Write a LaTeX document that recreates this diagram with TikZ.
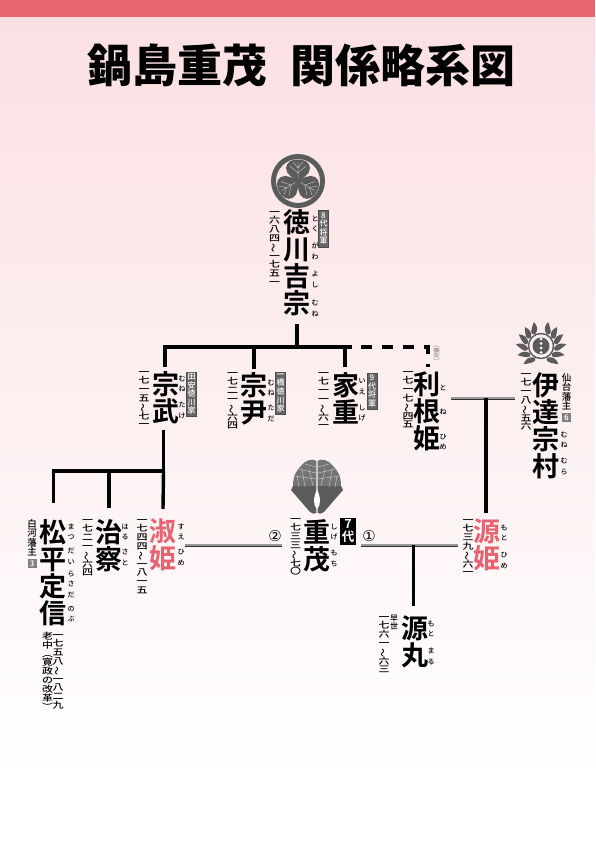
\documentclass[tikz,border=0pt]{standalone}
\usepackage{fontspec}
\usepackage{xcolor}
\newfontfamily\tatefont{Noto Sans CJK JP Medium}
\newfontfamily\tatebold{Noto Sans CJK JP Bold}
\newfontfamily\yokofont{Noto Sans CJK JP Black}
\newfontfamily\symfont{DejaVu Sans}
\definecolor{band}{HTML}{E9656F}
\definecolor{himepink}{HTML}{E8636F}
\definecolor{paper}{HTML}{FBE0E2}
\definecolor{mon}{HTML}{5B5B5B}
% one character per line, the three signs that turn get turned
\makeatletter
\newif\iftatetop
\def\tatenami{〜}
\def\tatehira{（}
\def\tatetoji{）}
\newcommand\tateput{\ifx\tatec\tatenami\smash{\rotatebox[origin=c]{90}{〜}}\else\ifx\tatec\tatehira\smash{\rotatebox[origin=c]{-90}{（}}\else\ifx\tatec\tatetoji\smash{\rotatebox[origin=c]{-90}{）}}\else\tatec\fi\fi\fi}
\newcommand\tate[1]{\global\tatetoptrue\@tfor\tatec:=#1\do{\global\let\tatec\tatec\iftatetop\global\tatetopfalse\else\\\fi\tateput}}
\makeatother
% one leaf of the aoi crest
\newcommand\aoileaf[1]{
    \begin{scope}[shift={(298,181)},rotate=#1]
    \fill[mon] (0,1) .. controls (-4,-3) and (-12,-6) .. (-12,-13) .. controls (-12,-19) and (-5,-22) .. (0,-21.5) .. controls (5,-22) and (12,-19) .. (12,-13) .. controls (12,-6) and (4,-3) .. (0,1);
    \draw[white!60!mon,line width=0.5pt] (0,-3) -- (0,-19) (0,-8) -- (-8,-15) (0,-8) -- (8,-15) (0,-13) -- (-5,-19) (0,-13) -- (5,-19);
    \end{scope}
}
% a bamboo leaf, tip leaning towards the top of the crest
\newcommand\takeleaf[2]{
    \fill[mon,shift={(541,346)},rotate=#1] (0,-13) .. controls (-5,-15) and (-4+#2/2,-19) .. (#2,-24.5) .. controls (4+#2/2,-19) and (5,-15) .. (0,-13);
}
% right half of the apricot-leaf crest
\newcommand\kyoyo[1]{
    \begin{scope}[shift={(317,455)},xscale=#1]
    \fill[mon!85] (0.6,6) .. controls (4,3) and (12,5) .. (16,11) .. controls (21,16) and (24,21) .. (24,31) -- (0.6,31) -- cycle;
    \fill[mon] (0.6,31) -- (24,31) -- (26,35) -- (7,57) .. controls (5,59) and (2,59) .. (0.6,58) -- cycle;
    \draw[white!70!mon,line width=0.4pt] (1,12) -- (12,9) (1,18) -- (18,14) (1,24) -- (22,21) (4,31) -- (8,14) (12,32) -- (15,14) (18,32) -- (20,21);
    \fill[white] (0,34) .. controls (3,42) and (5,48) .. (0,54) -- cycle;
    \end{scope}
}
\begin{document}
\begin{tikzpicture}[x=1pt,y=-1pt,
        tatenode/.style={anchor=north, inner sep=0pt, align=center, execute at begin node={\rule{0pt}{0.88em}}},
        hito/.style={tatenode, font=\tatebold\fontsize{27}{27}\selectfont},
        hime/.style={hito, text=himepink},
        nenpu/.style={tatenode, font=\tatefont\fontsize{11}{11}\selectfont, yscale=0.8},
        yomi/.style={tatenode, font=\tatefont\fontsize{7}{10.5}\selectfont},
        katagaki/.style={tatenode, font=\tatefont\fontsize{9.5}{9.5}\selectfont},
        daibox/.style={anchor=center, fill=black!60, draw=black!70, line width=0.5pt, text=white, inner xsep=1pt, inner ysep=1.5pt, align=center, font=\tatefont\fontsize{8}{8.6}\selectfont, execute at begin node={\rule{0pt}{0.88em}}},
        numbox/.style={fill=black!50, text=white, inner sep=0pt, minimum width=9pt, minimum height=8.5pt, font=\sffamily\bfseries\fontsize{8}{8}\selectfont},
        maru/.style={font=\symfont\fontsize{15}{15}\selectfont, inner sep=0pt},
        ketsu/.style={line width=3.4pt},
        yoshi/.style={line width=3.4pt, dash pattern=on 11pt off 10pt},
        kon/.style={draw=black!80, line width=0.7pt, double=black!40, double distance=1.6pt}
    ]
    \useasboundingbox (0,0) rectangle (595,842);
    % haikei
    \shade[top color=paper, bottom color=white] (0,17) rectangle (595,780);
    \fill[band] (0,0) rectangle (595,17);
    \node[font=\yokofont\fontsize{45}{45}\selectfont, inner sep=0pt] (title) at (301.5,65) {鍋島重茂\hspace{0.5em}関係略系図};
    % mon
    \draw[mon, line width=5pt] (298,181) circle (24.5);
    \aoileaf{0}
    \aoileaf{120}
    \aoileaf{240}
    \takeleaf{28}{5}\takeleaf{52}{5}\takeleaf{76}{6}\takeleaf{100}{6}\takeleaf{125}{6}\takeleaf{150}{6}
    \takeleaf{-28}{-5}\takeleaf{-52}{-5}\takeleaf{-76}{-6}\takeleaf{-100}{-6}\takeleaf{-125}{-6}\takeleaf{-150}{-6}
    \draw[mon, line width=1.4pt] (541,346) circle (12.5);
    \fill[mon] (541,346) circle (8.5);
    \fill[white] (541,339) circle (1.5) (541,343.5) circle (1.5) (541,348) circle (1.5) (541,352.5) circle (1.5);
    \kyoyo{1}
    \kyoyo{-1}
    % Yoshimune
    \node[hito] (yoshimune) at (296.5,209.5) {\tate{徳川吉宗}};
    \node[nenpu] (yoshimune-y) at (274.5,211) {\tate{一六八四〜一七五一}};
    \node[yomi] (yoshimune-r) at (315,215.5) {\tate{とく}\\[6.5pt]\tate{がわ}\\[7pt]\tate{よし}\\[8pt]\tate{むね}};
    \node[daibox, minimum height=37pt] (yoshimune-d) at (323.5,228.5) {\tate{8代将軍}};
    % Munetake
    \node[hito] (munetake) at (165.5,371.5) {\tate{宗武}};
    \node[nenpu] (munetake-y) at (144,371) {\tate{一七一五〜七一}};
    \node[yomi] (munetake-r) at (182,375.5) {\tate{むね}\\[5.5pt]\tate{たけ}};
    \node[daibox] (munetake-d) at (191.5,394) {\tate{田安徳川家}};
    % Munetada
    \node[hito] (munetada) at (254,372.5) {\tate{宗尹}};
    \node[nenpu] (munetada-y) at (232.5,372) {\tate{一七二一〜六四}};
    \node[yomi] (munetada-r) at (271,379.5) {\tate{むね}\\[4.5pt]\tate{ただ}};
    \node[daibox] (munetada-d) at (280.5,393) {\tate{一橋徳川家}};
    % Ieshige
    \node[hito] (ieshige) at (345.5,372.5) {\tate{家重}};
    \node[nenpu] (ieshige-y) at (323.5,372) {\tate{一七一一〜六一}};
    \node[yomi] (ieshige-r) at (362,378.5) {\tate{いえ}\\[5.5pt]\tate{しげ}};
    \node[daibox, minimum height=36pt] (ieshige-d) at (372,391) {\tate{9代将軍}};
    % Tone
    \node[hito] (tone) at (427,371.5) {\tate{利根姫}};
    \node[nenpu] (tone-y) at (408,371) {\tate{一七一七〜四五}};
    \node[yomi] (tone-r) at (443,384.5) {\tate{と}\\[13.5pt]\tate{ね}\\[14.5pt]\tate{ひめ}};
    \node[tatenode, font=\tatefont\fontsize{7}{7}\selectfont, text=black!45, yscale=0.75] (tone-k) at (436.5,347) {\tate{（養女）}};
    % Munemura
    \node[hito] (munemura) at (546,372.5) {\tate{伊達宗村}};
    \node[nenpu] (munemura-y) at (526,373) {\tate{一七一八〜五六}};
    \node[yomi] (munemura-r) at (564,431.5) {\tate{むね}\\[5.5pt]\tate{むら}};
    \node[katagaki] (munemura-k) at (566.5,373) {\tate{仙台藩主}};
    \node[numbox] (munemura-n) at (566.5,417.5) {6};
    % Shigemochi
    \node[hito] (shigemochi) at (317,519.5) {\tate{重茂}};
    \node[nenpu] (shigemochi-y) at (295.5,518) {\tate{一七三三〜七〇}};
    \node[yomi] (shigemochi-r) at (334,523.5) {\tate{しげ}\\[5.5pt]\tate{もち}};
    \node[fill=black, text=white, inner ysep=2pt, inner xsep=1.5pt, font=\tatebold\fontsize{12.5}{13}\selectfont, align=center] (shigemochi-d) at (348,531.5) {\tate{7代}};
    % Motohime
    \node[hime] (motohime) at (487,518.5) {\tate{源姫}};
    \node[nenpu] (motohime-y) at (468,519) {\tate{一七三九〜六一}};
    \node[yomi] (motohime-r) at (504,524.5) {\tate{もと}\\[6.5pt]\tate{ひめ}};
    % Motomaru
    \node[hito] (motomaru) at (415,615.5) {\tate{源丸}};
    \node[nenpu] (motomaru-y) at (384,616) {\tate{一七六一〜六三}};
    \node[yomi] (motomaru-r) at (431,620.5) {\tate{もと}\\[6.5pt]\tate{まる}};
    \node[katagaki, font=\tatefont\fontsize{8}{8}\selectfont] (motomaru-k) at (394,615) {\tate{早世}};
    % Sue
    \node[hime] (sue) at (163,518.5) {\tate{淑姫}};
    \node[nenpu] (sue-y) at (142,519) {\tate{一七四四〜一八一五}};
    \node[yomi] (sue-r) at (181,523.5) {\tate{すえ}\\[4.5pt]\tate{ひめ}};
    % Harusato
    \node[hito] (harusato) at (109,519.5) {\tate{治察}};
    \node[nenpu] (harusato-y) at (87.5,519) {\tate{一七二一〜六四}};
    \node[yomi] (harusato-r) at (125,523.5) {\tate{はる}\\[4.5pt]\tate{さと}};
    % Sadanobu
    \node[hito] (sadanobu) at (52.5,519.5) {\tate{松平定信}};
    \node[nenpu] (sadanobu-y) at (58,634) {\tate{一七五八〜一八二九}};
    \node[nenpu] (sadanobu-k) at (47.5,632) {\tate{老中（寛政の改革）}};
    \node[yomi] (sadanobu-r) at (71,523.5) {\tate{まつ}\\[3.5pt]\tate{だい}\\[1.5pt]\tate{らさだ}\\[3.5pt]\tate{のぶ}};
    \node[katagaki] (sadanobu-h) at (32,519) {\tate{白河藩主}};
    \node[numbox] (sadanobu-n) at (32,563.5) {3};
    % tsunagi
    \coordinate (oya) at (297,347);
    \coordinate (oya-l) at (165,347);
    \coordinate (oya-m) at (254,347);
    \coordinate (oya-r) at (345,347);
    \coordinate (oya-e) at (350,347);
    \coordinate (yoshi-s) at (361,347);
    \coordinate (yoshi-c) at (428,347);
    \coordinate (yoshi-e) at (428,367);
    \draw[ketsu] ([yshift=-7.5pt,xshift=0.5pt]yoshimune.south) -- (oya);
    \draw[ketsu, line cap=rect] (oya-l) -- (oya-e);
    \draw[ketsu] (oya-l) -- ([yshift=4.5pt,xshift=-0.5pt]munetake.north);
    \draw[ketsu] (oya-m) -- ([yshift=3.5pt]munetada.north);
    \draw[ketsu] (oya-r) -- ([yshift=5.5pt,xshift=-0.5pt]ieshige.north);
    \draw[yoshi] (yoshi-s) -- (yoshi-c) -- (yoshi-e);
    % Munetake no ko
    \coordinate (ko-l) at (53.5,471);
    \coordinate (ko-m) at (109,471);
    \coordinate (ko-r) at (163.5,471);
    \draw[ketsu] ([yshift=-5.5pt,xshift=-2pt]munetake.south) -- (ko-r);
    \draw[ketsu, line cap=rect] (ko-l) -- (ko-r);
    \draw[ketsu] (ko-l) -- ([yshift=16.5pt,xshift=1pt]sadanobu.north);
    \draw[ketsu] (ko-m) -- ([yshift=11.5pt]harusato.north);
    \draw[ketsu] (ko-r) -- ([yshift=9.5pt]sue.north);
    % kon'in
    \coordinate (kon2-l) at (185,545);
    \coordinate (kon2-r) at (282,545);
    \coordinate (kon1-l) at (361,545);
    \coordinate (kon1-m) at (413.5,545);
    \coordinate (kon1-r) at (458,545);
    \coordinate (date-l) at (451,398);
    \coordinate (date-m) at (486,398);
    \coordinate (date-r) at (515,398);
    \draw[kon] (kon2-l) -- (kon2-r);
    \draw[kon] (kon1-l) -- (kon1-r);
    \draw[kon] (date-l) -- (date-r);
    \draw[ketsu] (date-m) -- ([yshift=5.5pt,xshift=-1pt]motohime.north);
    \draw[ketsu] (kon1-m) -- ([yshift=9.5pt,xshift=-1.5pt]motomaru.north);
    \node[maru] (maru2) at (275,536) {②};
    \node[maru] (maru1) at (369,536) {①};
\end{tikzpicture}
\end{document}
